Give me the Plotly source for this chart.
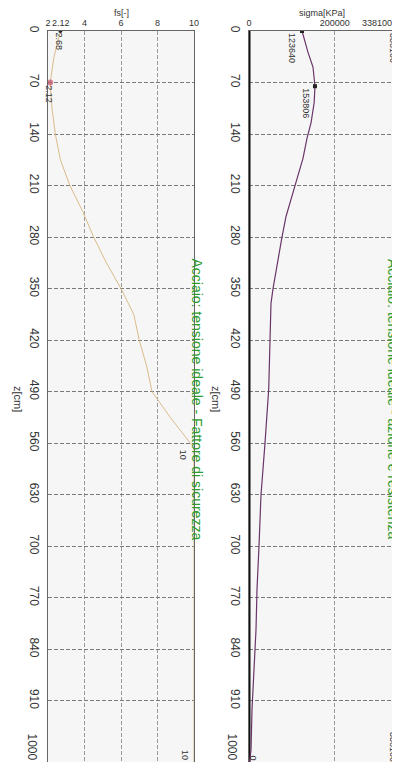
import plotly.graph_objects as go

# ---------------- data ----------------
z_fs = [0, 35, 70, 105, 140, 175, 210, 245, 280, 315, 350, 385, 420, 455, 490, 525, 560, 565, 630, 700, 770, 840, 910, 1000]
fs = [2.68, 2.33, 2.12, 2.22, 2.4, 2.68, 3.2, 3.9, 4.5, 5.2, 6.0, 6.7, 7.0, 7.4, 7.7, 8.7, 9.8, 10, 10, 10, 10, 10, 10, 10]

z_sig = [0, 29, 49, 75, 97, 125, 146, 173, 210, 252, 280, 317, 350, 370, 420, 463, 486, 560, 630, 700, 758, 814, 840, 866, 922, 977, 1000]
sigma = [123640, 137600, 149200, 153806, 152000, 144600, 135200, 125900, 107300, 86300, 76900, 65300, 56000, 51300,
         49000, 46600, 46000, 37300, 28000, 23300, 18700, 16300, 14000, 11700, 7000, 4700, 0]

z_res = [0, 1000]
resistenza = [338100, 338100]
z_zero = [0, 1000]
compressione = [0, 0]

z_ticks = [0, 70, 140, 210, 280, 350, 420, 490, 560, 630, 700, 770, 840, 910]
z_ticktext = [str(v) for v in z_ticks]
z_end = 1000
fs_ticks = [2, 4, 6, 8, 10]
sig_ticks = [0, 200000]
sig_max = 338100

title_fs = "Acciaio: tensione ideale - Fattore di sicurezza"
title_sig = "Acciaio: tensione ideale - azione e resistenza"

GREEN = "#2e9b2e"
TXT = "#333333"
FONT = "Liberation Sans, Arial"

W, H = 400, 762
def px(xw):
    return xw / W

fig = go.Figure()

# fs curve
fig.add_trace(go.Scatter(x=fs, y=z_fs, mode="lines", line=dict(color="#dcbc8c", width=1),
                         xaxis="x", yaxis="y", showlegend=False, hoverinfo="skip"))
fig.add_trace(go.Scatter(x=[fs[0]], y=[z_fs[0]], mode="markers", marker=dict(color="#222", size=4),
                         xaxis="x", yaxis="y", showlegend=False))
fig.add_trace(go.Scatter(x=[fs[2]], y=[z_fs[2]], mode="markers", marker=dict(color="#c0506a", size=6, opacity=0.7),
                         xaxis="x", yaxis="y", showlegend=False))

# sigma plot
fig.add_trace(go.Scatter(x=compressione, y=z_zero, mode="lines", line=dict(color="#111", width=3),
                         xaxis="x2", yaxis="y2", showlegend=False))
fig.add_trace(go.Scatter(x=resistenza, y=z_res, mode="lines", line=dict(color="#45458a", width=3),
                         xaxis="x2", yaxis="y2", showlegend=False))
fig.add_trace(go.Scatter(x=sigma, y=z_sig, mode="lines", line=dict(color="#6a3568", width=1.2),
                         xaxis="x2", yaxis="y2", showlegend=False))
fig.add_trace(go.Scatter(x=[sigma[0], sigma[3]], y=[z_sig[0], z_sig[3]], mode="markers",
                         marker=dict(color="#222", size=4, symbol="square"),
                         xaxis="x2", yaxis="y2", showlegend=False))
fig.add_trace(go.Scatter(x=[0], y=[1000], mode="markers", marker=dict(color="#d03030", size=4),
                         xaxis="x2", yaxis="y2", showlegend=False))

grid_h = dict(showgrid=True, gridcolor="#7a7a7a", griddash="4px,2px", gridwidth=1)

yax = dict(range=[z_end, 0], tickvals=z_ticks, ticktext=z_ticktext, tickangle=90,
           tickfont=dict(family=FONT, size=12, color=TXT), ticklabelstandoff=3,
           showline=True, mirror=True, linecolor="#666", linewidth=1, ticks="", zeroline=False,
           automargin=False, **grid_h)

fig.update_layout(
    width=W, height=H,
    margin=dict(l=0, r=0, t=23, b=3),
    paper_bgcolor="white", plot_bgcolor="#f6f6f6",
    xaxis=dict(domain=[px(40), px(186)], range=[2, 10], side="top", anchor="y",
               tickvals=fs_ticks, ticktext=[str(v) for v in fs_ticks],
               tickfont=dict(family=FONT, size=9, color=TXT),
               showline=True, mirror=True, linecolor="#666", linewidth=1, ticks="", zeroline=False,
               showgrid=True, gridcolor="#9a9a9a", griddash="4px,2px", automargin=False),
    yaxis=dict(anchor="x", **yax),
    xaxis2=dict(domain=[px(241), px(386)], range=[0, sig_max], side="top", anchor="y2",
                tickvals=sig_ticks, ticktext=[str(v) for v in sig_ticks],
                tickfont=dict(family=FONT, size=9, color=TXT),
                showline=True, mirror=True, linecolor="#666", linewidth=1, ticks="", zeroline=False,
                showgrid=True, gridcolor="#9a9a9a", griddash="4px,2px", automargin=False),
    yaxis2=dict(anchor="x2", **yax),
)

ann = []
def a(**k):
    base = dict(showarrow=False, font=dict(family=FONT, size=9, color=TXT))
    base.update(k)
    ann.append(base)

def lab(text, xref, yref, x, y, dx, dy):
    # rotated data label centred at (point + offset)
    a(text=text, xref=xref, yref=yref, x=x, y=y, textangle=90, xanchor="center", yanchor="middle",
      xshift=dx, yshift=dy)

def lab_bottom(text, xref, yref, x, y, dx, dy):
    a(text=text, xref=xref, yref=yref, x=x, y=y, textangle=90, xanchor="center", yanchor="bottom",
      xshift=dx, yshift=dy)

# top axis titles
a(text="fs[-]", xref="x domain", yref="paper", x=0.5, y=1, xanchor="center", yanchor="bottom", yshift=11)
a(text="sigma[KPa]", xref="x2 domain", yref="paper", x=0.5, y=1, xanchor="center", yanchor="bottom", yshift=11)
# extra top tick labels
a(text="2.12", xref="x", yref="paper", x=2.12, y=1, xanchor="left", yanchor="bottom", yshift=1)
a(text=str(sig_max), xref="x2", yref="paper", x=sig_max, y=1, xanchor="right", yanchor="bottom", yshift=1)
# end tick labels of z axes
for xp in (px(24), px(224)):
    a(text=str(z_end), xref="paper", yref="y", x=xp, y=z_end, textangle=90, xanchor="center",
      yanchor="bottom", yshift=5, font=dict(family=FONT, size=12, color=TXT))
# z axis titles
a(text="z[cm]", xref="paper", yref="paper", x=px(10), y=0.5, textangle=90, xanchor="center", yanchor="middle",
  font=dict(family=FONT, size=11, color=TXT))
a(text="z[cm]", xref="paper", yref="paper", x=px(208), y=0.5, textangle=90, xanchor="center", yanchor="middle",
  font=dict(family=FONT, size=11, color=TXT))
# plot titles
a(text=title_fs, xref="paper", yref="paper", x=px(188.5), y=0.5, textangle=90, xanchor="center", yanchor="middle",
  font=dict(family=FONT, size=14, color=GREEN))
a(text=title_sig, xref="paper", yref="paper", x=px(385), y=0.5, textangle=90, xanchor="center", yanchor="middle",
  font=dict(family=FONT, size=14, color=GREEN))
# data labels
lab(f"{fs[0]:.2f}", "x", "y", fs[0], z_fs[0], -1, -11)
lab(f"{fs[2]:.2f}", "x", "y", fs[2], z_fs[2], -1, -12)
lab(f"{fs[17]:.0f}", "x", "y", fs[17], z_fs[17], -11, -8)
lab_bottom(f"{fs[-1]:.0f}", "x", "y", fs[-1], z_fs[-1], -9, 5)
lab(str(sigma[0]), "x2", "y2", sigma[0], z_sig[0], -10, -17)
lab(str(sigma[3]), "x2", "y2", sigma[3], z_sig[3], -9, -17)
lab_bottom(str(sigma[-1]), "x2", "y2", sigma[-1], z_sig[-1], 4, 5)
lab(str(resistenza[0]), "x2", "y2", resistenza[0], z_res[0], -1, -17)
lab_bottom(str(resistenza[-1]), "x2", "y2", resistenza[-1], z_res[-1], -1, 3)

fig.update_layout(annotations=ann)
fig.write_html("out.html")
